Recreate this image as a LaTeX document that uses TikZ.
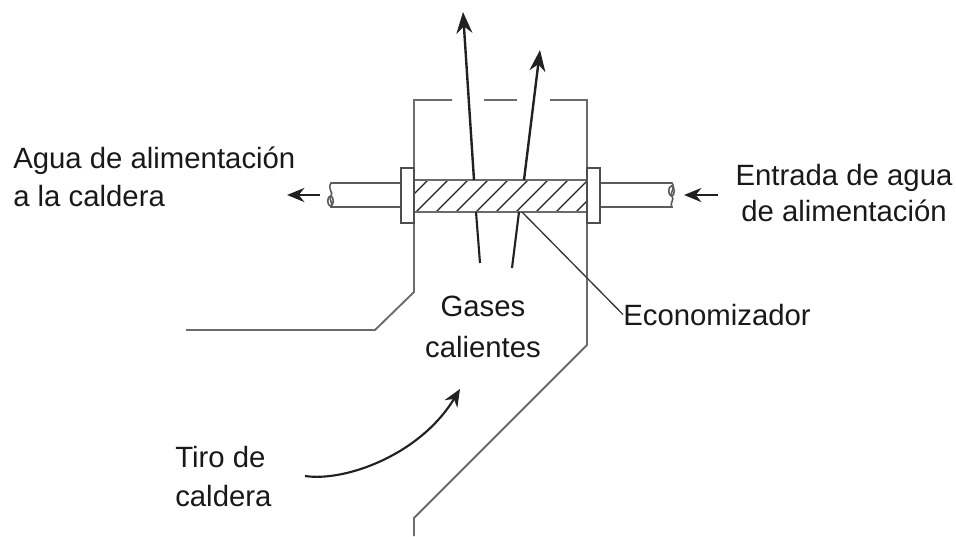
\documentclass[tikz,border=0pt]{standalone}
\usepackage{fontspec}
\setmainfont{Liberation Sans}
\usetikzlibrary{arrows.meta}
\definecolor{wall}{gray}{0.42}
\definecolor{ink}{gray}{0.13}
\tikzset{
  x=0.75pt,y=-0.75pt,
  wallline/.style={draw=wall,line width=1.4pt,line join=miter},
  thinline/.style={draw=wall!85!black,line width=1.2pt},
  hatchline/.style={draw=ink,line width=0.9pt},
  flow/.style={draw=ink,line width=1.8pt,-{Stealth[length=16pt,width=12pt]}},
  stub/.style={draw=ink,line width=1.6pt},
  small/.style={draw=ink,line width=2.2pt,-{Stealth[length=13pt,width=10.5pt]}},
  leader/.style={draw=ink!90,line width=1pt},
  lab/.style={inner sep=0pt,font=\fontsize{22}{29}\selectfont,text=black!90}
}
\begin{document}
\begin{tikzpicture}
\useasboundingbox (0,0) rectangle (956,536);
% walls
\draw[wallline] (452,100) -- (414,100) -- (414,292) -- (375,330) -- (186,330);
\draw[wallline] (484,100) -- (517,100);
\draw[wallline] (550,100) -- (587,100) -- (587,345) -- (414,518) -- (414,536);
% pipes
\draw[thinline] (401,183) -- (331,183) .. controls (327,189) and (334,193) .. (331,196) .. controls (328,200) and (334,203) .. (331,207) -- (401,207);
\draw[thinline] (330.5,201) ellipse (2.8 and 5);
\draw[thinline] (600,183) -- (672,183) .. controls (676,189) and (669,193) .. (672,196) .. controls (675,200) and (669,203) .. (672,207) -- (600,207);
\draw[thinline] (671.5,191) ellipse (2.8 and 5);
% hatch
\begin{scope}
\clip (414,180) rectangle (587,212);
\foreach \i in {-1,0,...,9} \draw[hatchline] ({416+20*\i},212) -- ({448+20*\i},180);
\end{scope}
% economizer body and flanges
\node[draw=wall,line width=1.4pt,minimum width=129.75pt,minimum height=24pt,inner sep=0pt] (eco) at (500.5,196) {};
\node[draw=ink!80,fill=white,line width=1.2pt,minimum width=9.75pt,minimum height=41.25pt,inner sep=0pt] (fl) at (407.5,195.5) {};
\node[draw=ink!80,fill=white,line width=1.2pt,minimum width=9.75pt,minimum height=41.25pt,inner sep=0pt] (fr) at (593.5,195.5) {};
% gas flow
\coordinate (a1) at (474,180); \coordinate (a1t) at (463,12);
\coordinate (a2) at (524,180); \coordinate (a2t) at (540,50);
\draw[flow] (a1) -- (a1t);
\draw[flow] (a2) -- (a2t);
\coordinate (b1) at (476,212); \coordinate (b1e) at (480,263);
\coordinate (b2) at (519,212); \coordinate (b2e) at (512,268);
\draw[stub] (b1) -- (b1e);
\draw[stub] (b2) -- (b2e);
% labels
\node[lab,align=left,anchor=west] (agua) at (13,176.5) {Agua de alimentación\\[-0.5pt]a la caldera};
\node[lab,align=center,anchor=center] (entrada) at (844,193) {Entrada de agua\\[-1.5pt]de alimentación};
\node[lab,anchor=base west] (econ) at (623,325) {Economizador};
\node[lab,align=center] (gases) at (483,327) {Gases\\[1.5pt]calientes};
\node[lab,align=left,anchor=west] (tiro) at (175,476.5) {Tiro de\\caldera};
% leader
\draw[leader] (522,212) -- (econ.west);
% small arrows
\coordinate (l1) at (320,195); \coordinate (l2) at (287,195);
\coordinate (r1) at (718,195); \coordinate (r2) at (684,195);
\draw[small] (l1) -- (l2);
\draw[small] (r1) -- (r2);
% draught
\coordinate (c1) at (305,476); \coordinate (c2) at (460,389);
\draw[draw=ink,line width=1.6pt,-{Stealth[length=13pt,width=11pt]}] (c1) .. controls (345,482) and (420,455) .. (c2);
\end{tikzpicture}
\end{document}
